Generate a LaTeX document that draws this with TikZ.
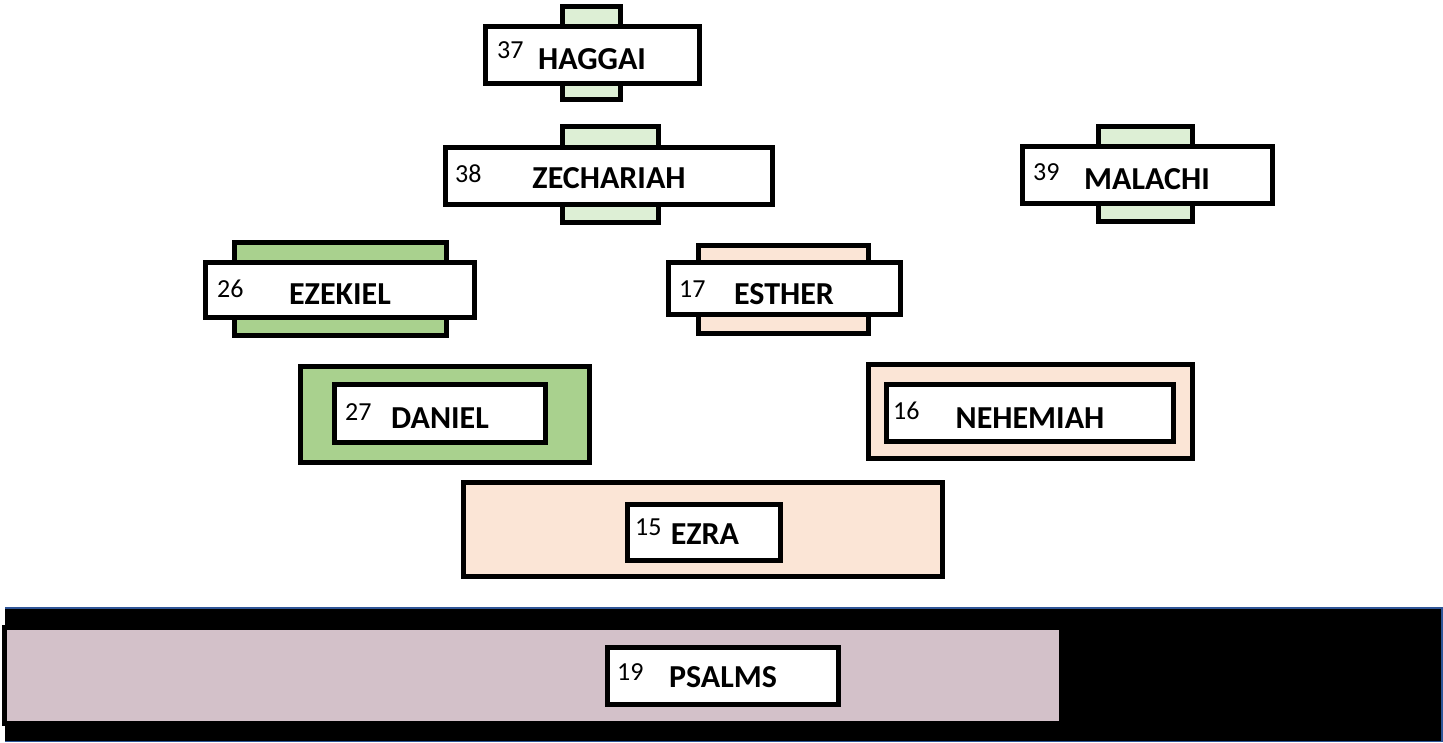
\documentclass[tikz,border=0pt]{standalone}
\usepackage{fontspec}
\setmainfont{Carlito}
\definecolor{palegreen}{HTML}{DDEFD5}
\definecolor{leafgreen}{HTML}{A9D18E}
\definecolor{peach}{HTML}{FBE5D6}
\definecolor{mauve}{HTML}{D3C1C9}
\definecolor{bandblue}{HTML}{2F5597}
\tikzset{
  frame/.style={rectangle, draw=black, line width=5pt, inner sep=0pt, outer sep=0pt},
  label box/.style={frame, fill=white},
  booknum/.style={inner sep=0pt, font=\fontsize{26}{30}\selectfont},
  booktitle/.style={inner sep=0pt, font=\fontsize{32}{36}\selectfont\bfseries},
}
% \plate{name}{left}{top}{right}{bottom}{style}: a framed rectangle given by its outer edges
\newcommand\plate[6]{%
  \pgfmathsetmacro\pw{#4-#2-5}\pgfmathsetmacro\ph{#5-#3-5}%
  \pgfmathsetmacro\pcx{(#2+#4)/2}\pgfmathsetmacro\pcy{(#3+#5)/2}%
  \node[frame,#6,minimum width=\pw pt,minimum height=\ph pt] (#1) at (\pcx,\pcy) {};}
\begin{document}
\begin{tikzpicture}[x=1pt,y=-1pt]
\useasboundingbox (0,0) rectangle (1443,742);

% Haggai
\plate{haggaitab}{560}{4}{623}{102}{fill=palegreen}
\plate{haggai}{483}{24}{702}{86}{label box}
\node[booknum, anchor=base west] (haggainum) at (497,58) {37};
\node[booktitle, anchor=base] (haggainame) at (592,69) {HAGGAI};

% Zechariah
\plate{zechtab}{560}{124}{661}{225}{fill=palegreen}
\plate{zech}{443}{145}{775}{207}{label box}
\node[booknum, anchor=base west] (zechnum) at (455,182) {38};
\node[booktitle, anchor=base] (zechname) at (609,188) {ZECHARIAH};

% Malachi
\plate{maltab}{1096}{124}{1195}{224}{fill=palegreen}
\plate{mal}{1020}{144}{1275}{206}{label box}
\node[booknum, anchor=base west] (malnum) at (1033,180) {39};
\node[booktitle, anchor=base] (malname) at (1147,189) {MALACHI};

% Ezekiel
\plate{ezektab}{232}{240}{449}{338}{fill=leafgreen}
\plate{ezek}{203}{260}{477}{320}{label box}
\node[booknum, anchor=base west] (ezeknum) at (217,297) {26};
\node[booktitle, anchor=base] (ezekname) at (340,304) {EZEKIEL};

% Esther
\plate{esthtab}{696}{243}{871}{336}{fill=peach}
\plate{esth}{666}{260}{903}{317}{label box}
\node[booknum, anchor=base west] (esthnum) at (679,297) {17};
\node[booktitle, anchor=base] (esthname) at (784,304) {ESTHER};

% Daniel
\plate{danback}{298}{364}{592}{465}{fill=leafgreen}
\plate{dan}{332}{382}{548}{445}{label box}
\node[booknum, anchor=base west] (dannum) at (345,420) {27};
\node[booktitle, anchor=base] (danname) at (440,428) {DANIEL};

% Nehemiah
\plate{nehback}{866}{362}{1195}{461}{fill=peach}
\plate{neh}{884}{382}{1176}{444}{label box}
\node[booknum, anchor=base west] (nehnum) at (893,419) {16};
\node[booktitle, anchor=base] (nehname) at (1030,428) {NEHEMIAH};

% Ezra
\plate{ezraback}{461}{480}{945}{579}{fill=peach}
\plate{ezra}{625}{502}{783}{563}{label box}
\node[booknum, anchor=base west] (ezranum) at (635,535) {15};
\node[booktitle, anchor=base] (ezraname) at (705,544) {EZRA};

% Psalms band: black strip with a blue rule along its top, right and bottom
\node[rectangle, fill=black, inner sep=0pt, outer sep=0pt,
      minimum width=1438pt, minimum height=135pt] (band) at (724,674.5) {};
\draw[bandblue, line width=2.5pt] (band.north west) ++(0,1.2) -| ([xshift=-0.8pt]band.south east);
\draw[bandblue, line width=1pt] ([yshift=0.5pt]band.south west) -- ([yshift=0.5pt]band.south east);
\plate{psback}{2}{625}{1064}{726}{fill=mauve}
\plate{ps}{605}{645}{841}{707}{label box}
\node[booknum, anchor=base west] (psnum) at (617,680) {19};
\node[booktitle, anchor=base] (psname) at (723,687) {PSALMS};
\end{tikzpicture}
\end{document}
